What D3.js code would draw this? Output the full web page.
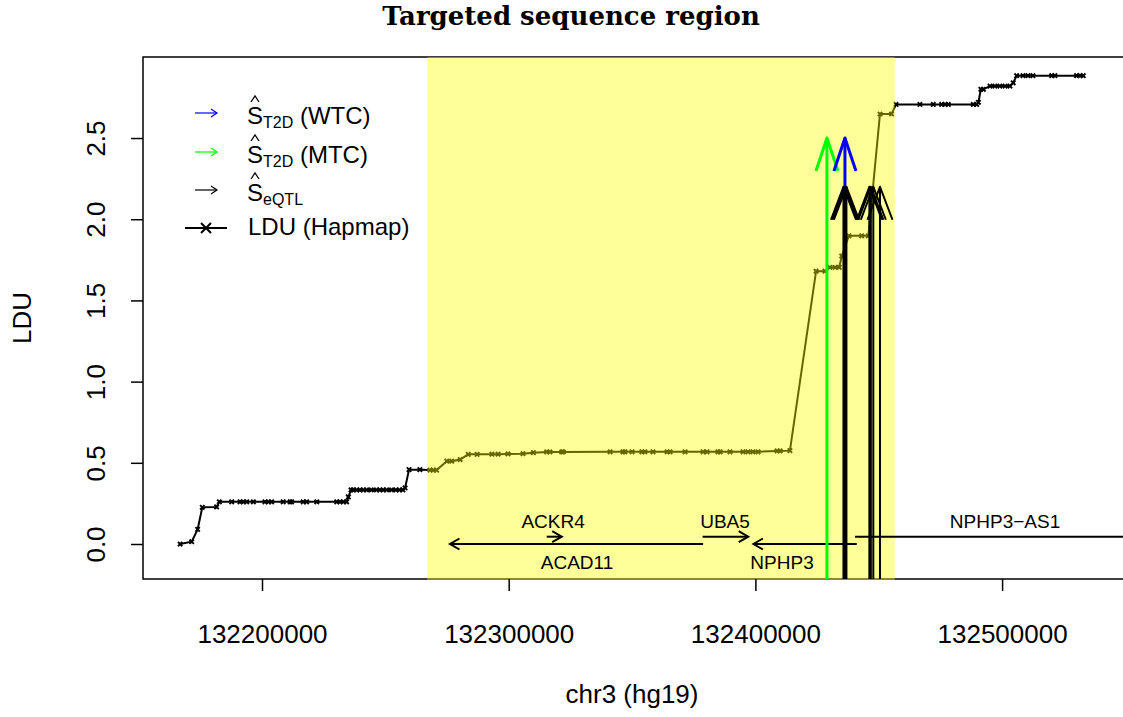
<!DOCTYPE html>
<html>
<head>
<meta charset="utf-8">
<script src="https://cdnjs.cloudflare.com/ajax/libs/d3/7.8.5/d3.min.js"></script>
<style>
body{margin:0;background:#fff;}
svg text{font-family:"Liberation Sans",Arial,sans-serif;fill:#000;}
</style>
</head>
<body>
<svg id="chart" width="1123" height="717"></svg>
<script>
// LDU map (Hapmap), positions in bp on chr3
var ldu_pos = [132166800,132171500,132173900,132175800,132181600,132182700,132187700,132191100,132192400,132193800,
  132196500,132201200,132202600,132203900,132208600,132211400,132212000,132216700,132218100,132222200,
  132230300,132231600,132233000,132234300,132235000,132236100,132237000,132238400,132239700,132241100,
  132242400,132244300,132246400,132247800,132249100,132250500,132252500,132254300,132255700,132257100,
  132258000,132259600,132264000,132268100,132269400,132270800,132274900,132276900,132280300,132283600,
  132287200,132293200,132295700,132299700,132305800,132310000,132315400,132316700,132321500,132322100,
  132341100,132346300,132347100,132350000,132354000,132355200,132358500,132364200,132365400,132371500,
  132378800,132380400,132384800,132385700,132389700,132395000,132397000,132399000,132401100,132408800,
  132410000,132414000,132424600,132428200,132430200,132432300,132434000,132435000,132437900,132443100,
  132445800,132450500,132455200,132457000,132466700,132472100,132475500,132476900,132478200,132488300,
  132489700,132490400,132491400,132492400,132495100,132497100,132499100,132501200,132503200,132504500,
  132505900,132508500,132510500,132512500,132520100,132521400,132530200,132531600,132532900];
var ldu_val = [0.000,0.014,0.090,0.226,0.228,0.260,0.260,0.260,0.260,0.260,
  0.260,0.260,0.260,0.260,0.260,0.260,0.260,0.260,0.260,0.260,
  0.260,0.260,0.260,0.260,0.290,0.333,0.333,0.333,0.333,0.333,
  0.333,0.333,0.333,0.333,0.333,0.333,0.333,0.333,0.333,0.333,
  0.345,0.458,0.458,0.455,0.455,0.455,0.510,0.510,0.520,0.552,
  0.552,0.553,0.553,0.555,0.556,0.562,0.567,0.567,0.567,0.567,
  0.568,0.568,0.568,0.568,0.568,0.568,0.568,0.568,0.568,0.568,
  0.568,0.568,0.568,0.568,0.568,0.568,0.568,0.568,0.568,0.573,
  0.573,0.575,1.680,1.680,1.704,1.704,1.704,1.773,1.898,1.898,
  1.898,2.648,2.648,2.707,2.707,2.707,2.707,2.707,2.707,2.707,
  2.707,2.720,2.800,2.800,2.820,2.820,2.820,2.820,2.820,2.840,
  2.884,2.884,2.884,2.884,2.884,2.884,2.884,2.884,2.884];

// targeted sequencing region
var region = [132267000, 132456500];

// selected SNPs
var t2d_wtc = [132436300];
var t2d_mtc = [132429000];
var eqtl = [132435700, 132436300, 132436900, 132446200, 132446800, 132447800, 132450500];
var t2d_top = 2.5, eqtl_top = 2.2;

// genes
var gene_names  = ["ACAD11", "ACKR4", "UBA5", "NPHP3", "NPHP3\u2212AS1"];
var gene_start  = [132276200, 132315400, 132378600, 132399200, 132440400];
var gene_end    = [132378800, 132321500, 132397100, 132441100, 132562000];
var gene_strand = [-1, 1, 1, -1, 1];
var gene_row    = [0, 1, 1, 0, 1];
var gene_label  = [132327700, 132318000, 132387700, 132410800, 132501200];

var xTicks = [132200000, 132300000, 132400000, 132500000];
var yTicks = [0, 0.5, 1, 1.5, 2, 2.5];

var pLeft = 143, pTop = 57, pBottom = 579, pRight = 1139;

var svg = d3.select("#chart");

var x = d3.scaleLinear().domain([132151760, 132555500]).range([pLeft, pRight]);
var y = d3.scaleLinear().domain([-0.2155, 2.999]).range([pBottom, pTop]);

svg.append("defs").append("clipPath").attr("id","plotclip")
  .append("rect").attr("x",pLeft).attr("y",pTop).attr("width",pRight-pLeft).attr("height",pBottom-pTop);

// title
svg.append("text").attr("x",571).attr("y",25).attr("text-anchor","middle")
  .style("font-family","'DejaVu Serif',serif").style("font-weight","bold").style("font-size","26px")
  .text("Targeted sequence region");

var plot = svg.append("g").attr("clip-path","url(#plotclip)");

// LDU line with x markers
var pts = ldu_pos.map(function(p,i){ return [p, ldu_val[i]]; });
var line = d3.line().x(function(d){return x(d[0]);}).y(function(d){return y(d[1]);});
plot.append("path").datum(pts).attr("d",line)
  .attr("fill","none").attr("stroke","#000").attr("stroke-width",2);
plot.selectAll(".mk").data(pts).enter().append("path")
  .attr("class","mk")
  .attr("transform",function(d){return "translate("+x(d[0])+","+y(d[1])+")";})
  .attr("d","M-2.2,-2.2L2.2,2.2M-2.2,2.2L2.2,-2.2")
  .attr("stroke","#000").attr("stroke-width",1.9);

// box
svg.append("rect").attr("x",pLeft).attr("y",pTop).attr("width",pRight-pLeft).attr("height",pBottom-pTop)
  .attr("fill","none").attr("stroke","#000").attr("stroke-width",1.5);

// semi transparent region on top
svg.append("rect").attr("x",x(region[0])).attr("y",pTop)
  .attr("width",x(region[1])-x(region[0])).attr("height",pBottom-pTop+1)
  .attr("fill","yellow").attr("fill-opacity",0.4);

// genes
function arrowHead(g, xe, ye, dir, len, col, sw){
  var a = Math.PI/6;
  g.append("path")
    .attr("d","M"+(xe-dir*len*Math.cos(a))+","+(ye-len*Math.sin(a))+"L"+xe+","+ye+"L"+(xe-dir*len*Math.cos(a))+","+(ye+len*Math.sin(a)))
    .attr("fill","none").attr("stroke",col).attr("stroke-width",sw);
}
var gg = svg.append("g").attr("clip-path","url(#plotclip)");
var rowY = [0, 0.045];
gene_names.forEach(function(name,i){
  var yy = y(rowY[gene_row[i]]);
  var x0 = x(gene_start[i]), x1 = x(gene_end[i]);
  var from = gene_strand[i] > 0 ? x0 : x1, to = gene_strand[i] > 0 ? x1 : x0;
  gg.append("line").attr("x1",from).attr("x2",to).attr("y1",yy).attr("y2",yy)
    .attr("stroke","#000").attr("stroke-width",2);
  arrowHead(gg, to, yy, gene_strand[i], 11, "#000", 2);
  gg.append("text").attr("x",x(gene_label[i])).attr("y", gene_row[i] ? yy-9 : yy+25)
    .attr("text-anchor","middle").style("font-size","19px").text(name);
});

// SNP arrows, drawn over the region
var ag = svg.append("g").attr("clip-path","url(#plotclip)");
function snpArrow(p, tip, col, sw, hw){
  var xx = x(p), yt = y(tip);
  ag.append("line").attr("x1",xx).attr("x2",xx).attr("y1",pBottom+5).attr("y2",yt)
    .attr("stroke",col).attr("stroke-width",sw);
  ag.append("path").attr("d","M"+(xx-hw)+","+(yt+33)+"L"+xx+","+yt+"L"+(xx+hw)+","+(yt+33))
    .attr("fill","none").attr("stroke",col).attr("stroke-width",sw).attr("stroke-linejoin","round");
}
t2d_mtc.forEach(function(p){ snpArrow(p, t2d_top, "#00ff00", 3, 11); });
t2d_wtc.forEach(function(p){ snpArrow(p, t2d_top, "#0000ff", 3, 11); });
eqtl.forEach(function(p){ snpArrow(p, eqtl_top, "#000", 2, 12.5); });

// axes
var xAxis = svg.append("g").attr("transform","translate(0,"+pBottom+")")
  .call(d3.axisBottom(x).tickValues(xTicks).tickSize(12).tickFormat(d3.format("d")));
xAxis.select(".domain").remove();
xAxis.selectAll("line").attr("stroke","#000").attr("stroke-width",1.5);
xAxis.selectAll("text").attr("y",0).attr("dy",0).attr("transform","translate(0,64)")
  .style("font-size","26px").style("font-family","'Liberation Sans',Arial,sans-serif");

var yAxis = svg.append("g").attr("transform","translate("+pLeft+",0)")
  .call(d3.axisLeft(y).tickValues(yTicks).tickSize(12).tickFormat(d3.format(".1f")));
yAxis.select(".domain").remove();
yAxis.selectAll("line").attr("stroke","#000").attr("stroke-width",1.5);
yAxis.selectAll("text").attr("x",0).attr("dy",0).attr("y",-38)
  .attr("transform","rotate(-90)").attr("text-anchor","middle")
  .style("font-size","26px").style("font-family","'Liberation Sans',Arial,sans-serif");

svg.append("text").attr("x",632).attr("y",703).attr("text-anchor","middle")
  .style("font-size","26px").text("chr3 (hg19)");
svg.append("text").attr("transform","translate(31,318) rotate(-90)").attr("text-anchor","middle")
  .style("font-size","26px").text("LDU");

// legend
var leg = svg.append("g");
var legCols = ["#0000ff", "#00ff00", "#000"];
var legSubs = ["T2D", "T2D", "eQTL"];
var legTail = [" (WTC)", " (MTC)", ""];
var legY = [124, 163, 201, 235];
legCols.forEach(function(c,i){
  var ay = legY[i] - 11;
  leg.append("line").attr("x1",195).attr("x2",217).attr("y1",ay).attr("y2",ay)
    .attr("stroke",c).attr("stroke-width",1.2);
  leg.append("path").attr("d","M211,"+(ay-4)+"L217,"+ay+"L211,"+(ay+4))
    .attr("fill","none").attr("stroke",c).attr("stroke-width",1.2);
  var t = leg.append("text").attr("x",247).attr("y",legY[i]).style("font-size","24px");
  t.append("tspan").text("S");
  t.append("tspan").attr("dy",4).style("font-size","16px").text(legSubs[i]);
  t.append("tspan").attr("dy",-4).text(legTail[i]);
  // hat over the S
  var hy = legY[i] - 21;
  leg.append("path").attr("d","M251,"+(hy-1)+"L255,"+(hy-7)+"L259,"+(hy-1))
    .attr("fill","none").attr("stroke","#000").attr("stroke-width",1.3);
});
var ly = 228;
leg.append("line").attr("x1",185).attr("x2",227).attr("y1",ly).attr("y2",ly)
  .attr("stroke","#000").attr("stroke-width",2);
leg.append("path").attr("d","M"+(206-5)+","+(ly-5)+"L"+(206+5)+","+(ly+5)+"M"+(206-5)+","+(ly+5)+"L"+(206+5)+","+(ly-5))
  .attr("stroke","#000").attr("stroke-width",2);
leg.append("text").attr("x",248).attr("y",legY[3]).style("font-size","24px").text("LDU (Hapmap)");
</script>
</body>
</html>
